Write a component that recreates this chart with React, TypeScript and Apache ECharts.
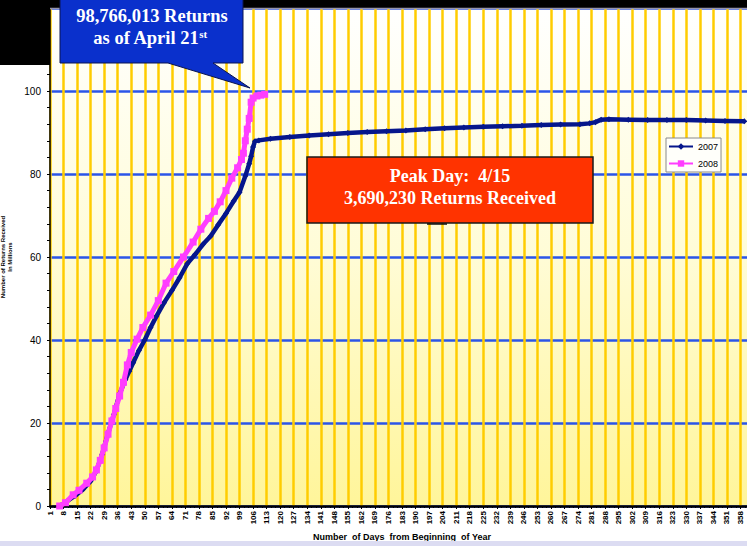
import { useEffect, useRef } from "react";
import * as echarts from "echarts";

// Day of year (1 = Jan 1) and cumulative returns received (millions)
const days2007 = [6, 10, 14, 18, 22, 25, 28, 31, 34, 37, 40, 42, 44, 47, 50, 53, 56, 60, 64, 68, 72, 76, 80, 84, 88, 92, 96, 99, 102, 104, 105, 106, 107, 109, 115, 125, 135, 145, 155, 165, 175, 185, 195, 205, 215, 225, 235, 245, 255, 265, 275, 280, 283, 286, 290, 300, 310, 320, 330, 340, 350, 360];
const returns2007 = [0, 1.2, 2.5, 4, 6, 8.5, 12.5, 17.5, 22, 27, 30.5, 32.5, 34.5, 37.5, 40, 43, 45.7, 49, 51.9, 55, 58.4, 60.6, 63, 65, 67.8, 70.5, 73.5, 75.6, 79.5, 82.5, 84.3, 86.5, 87.9, 88.1, 88.5, 88.9, 89.3, 89.6, 89.9, 90.1, 90.3, 90.5, 90.8, 91, 91.2, 91.4, 91.5, 91.6, 91.8, 91.9, 92, 92.2, 92.5, 93.1, 93.2, 93.1, 93, 93, 93, 92.9, 92.8, 92.7];
const days2008 = [6, 9, 13, 16, 20, 23, 25, 27, 29, 31, 33, 35, 37, 39, 41, 43, 46, 49, 53, 57, 61, 65, 70, 75, 79, 83, 86, 89, 92, 95, 98, 100, 101, 102, 103, 104, 105, 106, 108, 110, 112];
const returns2008 = [0, 0.8, 2.7, 3.8, 5.5, 7, 8.7, 11, 14, 17.3, 20.5, 23.5, 26.5, 29.8, 34, 37, 40.2, 43, 46, 49.5, 53.7, 56.5, 60, 63.6, 66.7, 69.3, 71, 73.3, 76, 79, 81.5, 83.5, 85, 88, 90.8, 93.4, 97.3, 98.3, 98.8, 99, 99.2];
const seriesNames = ["2007", "2008"];
const xTickStep = 7; // tick labels every 7 days: 1, 8, 15, ...
const xLastLabelDay = 358;
const yMax = 120;
const yStep = 20;
const xTitle = "Number  of Days  from Beginning  of Year";
const yTitle = "Number of Returns Received\nIn Millions";
const calloutLines = ["98,766,013 Returns", "as of April 21"];
const peakLines = ["Peak Day:  4/15", "3,690,230 Returns Received"];

const SANS = "Liberation Sans, Arial, sans-serif";
const SERIF = "Liberation Serif, Times New Roman, serif";

export default function App() {
  const ref = useRef<HTMLDivElement>(null);
  useEffect(() => {
    const chart = echarts.init(ref.current!, null, { renderer: "svg" });
    const toPoints = (d: number[], v: number[]) => d.map((day, i) => [day - 1, v[i]]);
    chart.setOption({
      animation: false,
      backgroundColor: "#ffffff",
      grid: {
        left: 50,
        right: 0,
        top: 8,
        bottom: 40,
        outerBoundsMode: "none",
        containLabel: false,
        show: true,
        borderWidth: 0,
        backgroundColor: new echarts.graphic.LinearGradient(0, 0, 0, 1, [
          { offset: 0, color: "#FFFFFF" },
          { offset: 0.5, color: "#FFFCD6" },
          { offset: 1, color: "#FFF59A" },
        ]),
      },
      legend: {
        data: seriesNames,
        orient: "vertical",
        left: 666,
        top: 138,
        itemWidth: 24,
        itemHeight: 8,
        itemGap: 8,
        padding: [4, 3, 4, 2],
        backgroundColor: "#FFFFFA",
        borderColor: "#8a8a8a",
        borderWidth: 1,
        textStyle: { fontFamily: SANS, fontSize: 9, color: "#000" },
      },
      xAxis: {
        type: "value",
        min: 0,
        max: 364,
        interval: xTickStep,
        name: xTitle,
        nameLocation: "middle",
        nameGap: 26,
        nameTextStyle: { fontFamily: SANS, fontSize: 9, fontWeight: "bold", color: "#000" },
        axisLine: { show: true, lineStyle: { color: "#000", width: 2.5 } },
        axisTick: { show: true, length: 3, lineStyle: { color: "#000", width: 1 } },
        minorTick: { show: true, splitNumber: 3, length: 2, lineStyle: { color: "#000" } },
        axisLabel: {
          rotate: 90,
          margin: 5,
          fontFamily: SANS,
          fontSize: 8,
          fontWeight: "bold",
          color: "#000",
          formatter: (v: number) => (v + 1 > xLastLabelDay ? "" : String(v + 1)),
        },
        splitLine: { show: true, lineStyle: { color: "#FFCC00", width: 2.5 } },
      },
      yAxis: {
        type: "value",
        min: 0,
        max: yMax,
        interval: yStep,
        name: yTitle,
        nameLocation: "middle",
        nameGap: 30,
        nameRotate: 90,
        nameTextStyle: { fontFamily: SANS, fontSize: 6, fontWeight: "bold", color: "#000", lineHeight: 7, padding: [0, 0, 0, 0] },
        axisLine: { show: true, lineStyle: { color: "#000", width: 1.5 } },
        axisTick: { show: true, length: 3, lineStyle: { color: "#000" } },
        minorTick: { show: true, splitNumber: 5, length: 3, lineStyle: { color: "#000" } },
        axisLabel: {
          margin: 9,
          fontFamily: SANS,
          fontSize: 10,
          color: "#000",
          formatter: (v: number) => (v >= yMax ? "" : String(v)),
        },
        splitLine: { show: true, lineStyle: { color: "#2B55E8", width: 2.5 } },
      },
      series: [
        {
          name: seriesNames[0],
          type: "line",
          data: toPoints(days2007, returns2007),
          color: "#06168C",
          symbol: "diamond",
          symbolSize: 6,
          showAllSymbol: true,
          lineStyle: { width: 4.5, color: "#06168C" },
          itemStyle: { color: "#06168C" },
          z: 3,
        },
        {
          name: seriesNames[1],
          type: "line",
          data: toPoints(days2008, returns2008),
          color: "#FF3DFF",
          symbol: "rect",
          symbolSize: 7,
          showAllSymbol: true,
          lineStyle: { width: 5, color: "#FF3DFF" },
          itemStyle: { color: "#FF3DFF" },
          z: 4,
        },
      ],
      graphic: [
        { type: "rect", z: 100, shape: { x: 0, y: 0, width: 754, height: 8 }, style: { fill: "#000" } },
        { type: "line", z: 100, shape: { x1: 50, y1: 8.5, x2: 754, y2: 8.5 }, style: { stroke: "#9494AE", lineWidth: 1.5 } },
        { type: "rect", z: 100, shape: { x: 0, y: 0, width: 50, height: 65 }, style: { fill: "#000" } },
        { type: "rect", z: 100, shape: { x: 0, y: 541, width: 754, height: 5 }, style: { fill: "#DCDCF2" } },
        {
          type: "polygon",
          z: 110,
          shape: { points: [[60, -5], [243, -5], [243, 63], [213, 63], [250, 88], [168, 63], [60, 63]] },
          style: { fill: "#0A30CC", stroke: "#0A1450", lineWidth: 1 },
        },
        {
          type: "text",
          z: 111,
          x: 152,
          y: 16,
          style: {
            text: calloutLines[0],
            fill: "#fff",
            font: `bold 18.5px ${SERIF}`,
            textAlign: "center",
            textVerticalAlign: "middle",
          },
        },
        {
          type: "text",
          z: 111,
          x: 150,
          y: 38,
          style: {
            text: `{a|${calloutLines[1]}}{b|st}`,
            fill: "#fff",
            textAlign: "center",
            textVerticalAlign: "middle",
            rich: {
              a: { fill: "#fff", fontFamily: SERIF, fontWeight: "bold", fontSize: 18.5, lineHeight: 20 },
              b: { fill: "#fff", fontFamily: SERIF, fontWeight: "bold", fontSize: 11, lineHeight: 20, verticalAlign: "top", padding: [0, 0, 6, 0] },
            },
          },
        },
        {
          type: "rect",
          z: 110,
          shape: { x: 307, y: 157, width: 286, height: 66 },
          style: { fill: "#FF3300", stroke: "#1a1a1a", lineWidth: 1.5 },
        },
        { type: "line", z: 110, shape: { x1: 427, y1: 224, x2: 447, y2: 224 }, style: { stroke: "#111", lineWidth: 1.5 } },
        {
          type: "text",
          z: 111,
          x: 450,
          y: 176,
          style: { text: peakLines[0], fill: "#fff", font: `bold 18px ${SERIF}`, textAlign: "center", textVerticalAlign: "middle" },
        },
        {
          type: "text",
          z: 111,
          x: 450,
          y: 198,
          style: { text: peakLines[1], fill: "#fff", font: `bold 18px ${SERIF}`, textAlign: "center", textVerticalAlign: "middle" },
        },
      ],
    });
    return () => chart.dispose();
  }, []);
  return (
    <div style={{ position: "fixed", left: 0, top: 0, width: 747, height: 546, overflow: "hidden", background: "#fff" }}>
      <div ref={ref} style={{ width: 754, height: 546 }} />
    </div>
  );
}
